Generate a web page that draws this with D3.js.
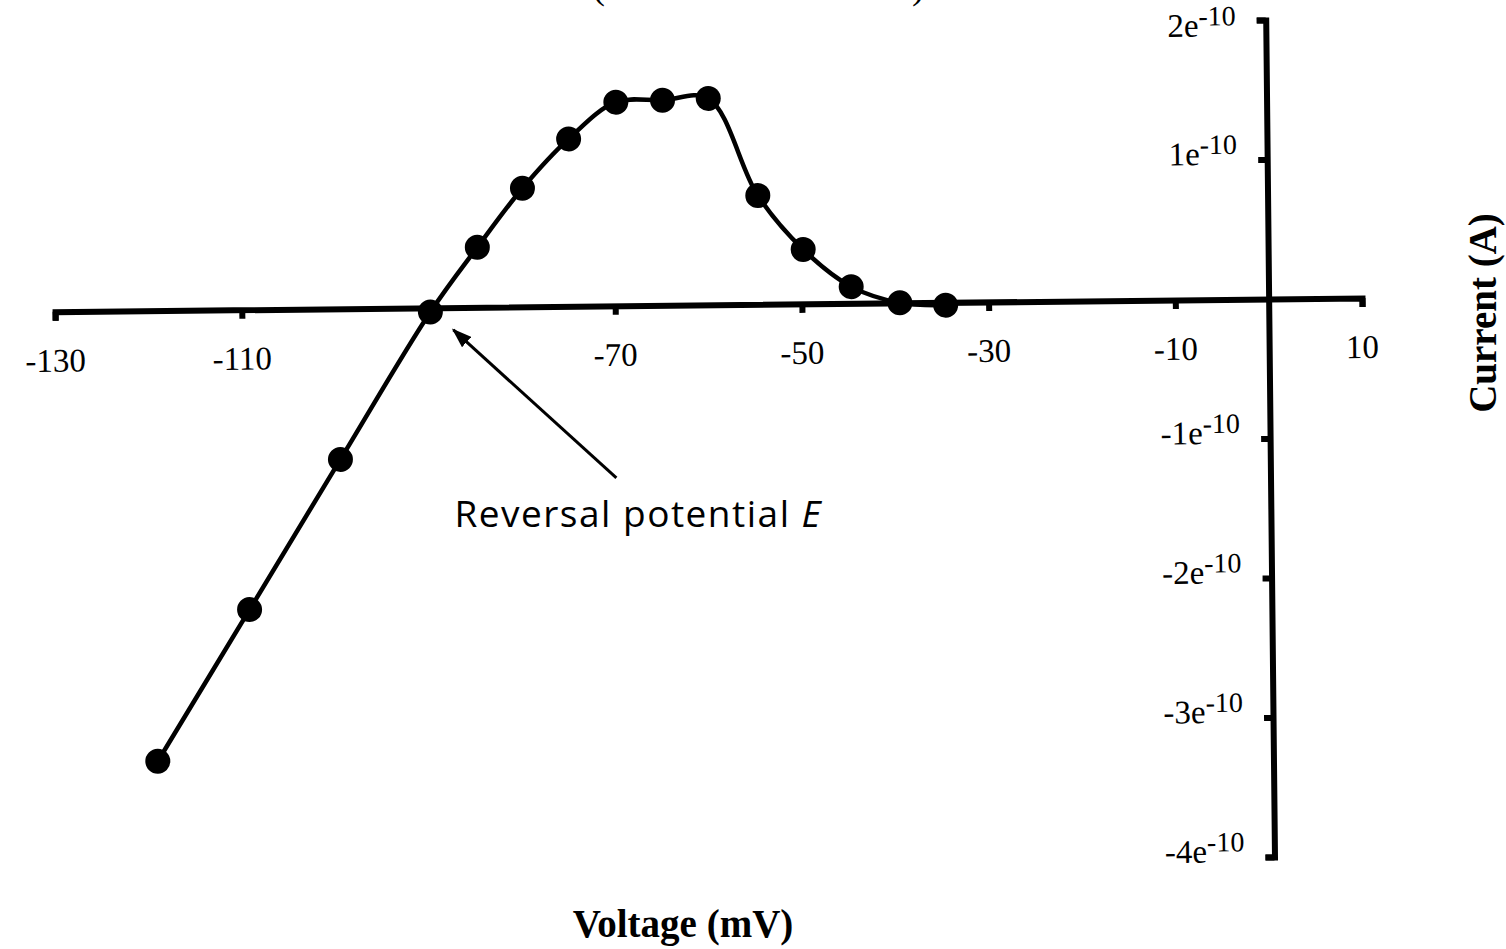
<!DOCTYPE html>
<html lang="en">
<head>
    <meta charset="UTF-8">
    <title>Current-Voltage</title>

    <style>

        body {
            margin: 0;
            background: #fff;
        }

        svg {
            display: block;
        }

        .axis path,
        .axis line {
            stroke: #000;
            stroke-width: 6px;
            fill: none;
        }

        .tick-label {
            font-family: 'Liberation Serif', 'Times New Roman', serif;
            font-size: 33px;
            fill: #000;
        }

        .axis-title {
            font-family: 'Liberation Serif', 'Times New Roman', serif;
            font-size: 39px;
            font-weight: bold;
            fill: #000;
        }

        .note {
            font-family: 'Open Sans', sans-serif;
            font-size: 37px;
            letter-spacing: 1.5px;
            fill: #000;
        }

    </style>

</head>
<body>

<script src="https://d3js.org/d3.v7.min.js"></script>
<script>

    // values
    const voltage = [-119.5, -109.5, -99.6, -89.8, -84.7, -79.8, -74.8, -69.7, -64.7, -59.8, -54.6, -49.8, -44.7, -39.5, -34.6];
    const current = [-3.23e-10, -2.15e-10, -1.08e-10, -0.03e-10, 0.43e-10, 0.85e-10, 1.20e-10, 1.46e-10, 1.47e-10, 1.48e-10, 0.78e-10, 0.39e-10, 0.12e-10, 0.0, -0.02e-10];

    const xTicks = [-130, -110, -90, -70, -50, -30, -10, 10];
    const xTickLabels = ['-130', '-110', '', '-70', '-50', '-30', '-10', '10'];
    const yTicks = [2e-10, 1e-10, -1e-10, -2e-10, -3e-10, -4e-10];
    const yTickMantissa = ['2e', '1e', '-1e', '-2e', '-3e', '-4e'];
    const yTickExponent = '-10';

    const reversalIndex = 3;

    const width = 1506;
    const height = 949;
    const tilt = -0.6;   // the scan is slightly rotated

    let svg = d3.select('body').append('svg')
        .attr('width', width)
        .attr('height', height);

    svg.append('rect')
        .attr('width', width)
        .attr('height', height)
        .attr('fill', '#fff');

    let x = d3.scaleLinear().domain([-130, 10]).range([55, 1362]);
    let y = d3.scaleLinear().domain([-4e-10, 2e-10]).range([857, 20]);

    const ox = x(0);
    const oy = y(0);

    function rot(px, py) {
        let a = tilt * Math.PI / 180;
        let dx = px - ox, dy = py - oy;
        return [ox + dx*Math.cos(a) - dy*Math.sin(a), oy + dx*Math.sin(a) + dy*Math.cos(a)];
    }

    let g = svg.append('g')
        .attr('transform', 'rotate(' + tilt + ',' + ox + ',' + oy + ')');

    // axes crossing at the origin
    g.append('g')
        .attr('class', 'axis')
        .attr('transform', 'translate(0,' + oy + ')')
        .call(d3.axisBottom(x).tickValues(xTicks).tickSize(9).tickSizeOuter(9).tickFormat(''));

    g.append('g')
        .attr('class', 'axis')
        .attr('transform', 'translate(' + ox + ',0)')
        .call(d3.axisLeft(y).tickValues(yTicks).tickSize(9).tickSizeOuter(9).tickFormat(''));

    g.append('g').selectAll('text')
        .data(xTicks)
        .enter().append('text')
        .attr('class', 'tick-label')
        .attr('x', function (d) { return x(d); })
        .attr('y', oy + 60)
        .attr('text-anchor', 'middle')
        .text(function (d, i) { return xTickLabels[i]; });

    // top label sits lower so it stays on the page
    let yl = g.append('g').selectAll('text')
        .data(yTicks)
        .enter().append('text')
        .attr('class', 'tick-label')
        .attr('x', ox - 30)
        .attr('y', function (d, i) { return y(d) + (i === 0 ? 16 : 5); })
        .attr('text-anchor', 'end');
    yl.append('tspan')
        .text(function (d, i) { return yTickMantissa[i]; });
    yl.append('tspan')
        .attr('dy', -11)
        .style('font-size', '28px')
        .text(yTickExponent);

    let pts = voltage.map(function (v, i) { return [v, current[i]]; });

    g.append('path')
        .datum(pts)
        .attr('fill', 'none')
        .attr('stroke', '#000')
        .attr('stroke-width', 4.5)
        .attr('d', d3.line()
            .x(function (d) { return x(d[0]); })
            .y(function (d) { return y(d[1]); })
            .curve(d3.curveCatmullRom));

    g.append('g').selectAll('circle')
        .data(pts)
        .enter().append('circle')
        .attr('cx', function (d) { return x(d[0]); })
        .attr('cy', function (d) { return y(d[1]); })
        .attr('r', 12.5)
        .attr('fill', '#000');

    // axis titles
    svg.append('text')
        .attr('class', 'axis-title')
        .attr('x', 683)
        .attr('y', 937)
        .attr('text-anchor', 'middle')
        .text('Voltage (mV)');

    svg.append('text')
        .attr('class', 'axis-title')
        .attr('transform', 'translate(1496,313) rotate(-90)')
        .attr('text-anchor', 'middle')
        .text('Current (A)');

    // bottom of the cropped title
    svg.append('text')
        .attr('class', 'axis-title')
        .attr('x', 592)
        .attr('y', -2)
        .style('font-weight', 'normal')
        .text('(');
    svg.append('text')
        .attr('class', 'axis-title')
        .attr('x', 912)
        .attr('y', -2)
        .style('font-weight', 'normal')
        .text(')');

    // reversal potential annotation
    let rp = rot(x(voltage[reversalIndex]), y(current[reversalIndex]));

    svg.append('defs').append('marker')
        .attr('id', 'head')
        .attr('markerUnits', 'userSpaceOnUse')
        .attr('markerWidth', 20)
        .attr('markerHeight', 14)
        .attr('refX', 18)
        .attr('refY', 7)
        .attr('orient', 'auto')
        .append('path')
        .attr('d', 'M0,0L20,7L0,14Z')
        .attr('fill', '#000');

    svg.append('line')
        .attr('x1', rp[0] + 186)
        .attr('y1', rp[1] + 166)
        .attr('x2', rp[0] + 23)
        .attr('y2', rp[1] + 18)
        .attr('stroke', '#000')
        .attr('stroke-width', 3)
        .attr('marker-end', 'url(#head)');

    let note = svg.append('text')
        .attr('class', 'note')
        .attr('x', rp[0] + 24)
        .attr('y', rp[1] + 215);
    note.append('tspan').text('Reversal potential ');
    note.append('tspan').style('font-style', 'italic').text('E');

</script>

</body>
</html>
